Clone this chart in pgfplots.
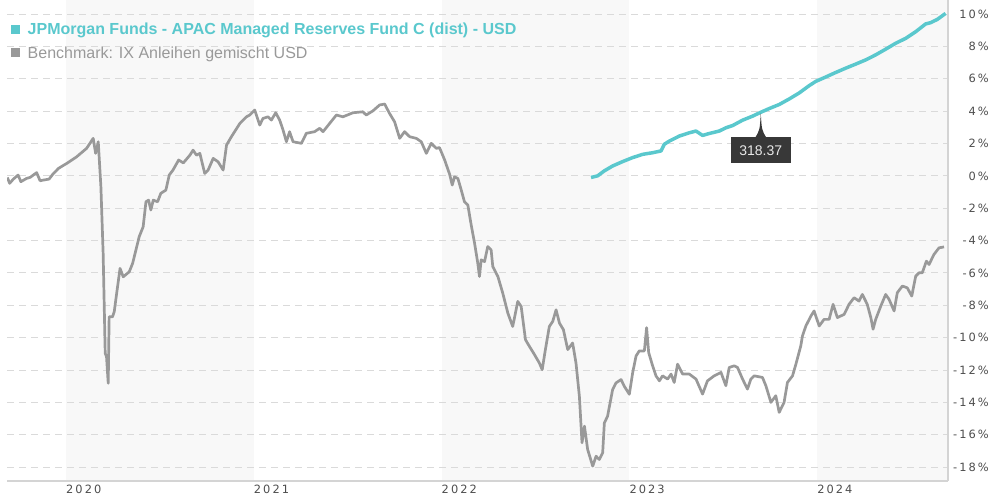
\documentclass[border=0pt]{standalone}
\usepackage{fontspec}
\setmainfont{Liberation Sans}
\newfontfamily\tickfont[LetterSpace=18]{DejaVu Sans}
\usepackage{pgfplots}
\pgfplotsset{compat=1.18}
\definecolor{fundc}{HTML}{5AC8CD}
\definecolor{benchc}{HTML}{999999}
\definecolor{bandc}{HTML}{F8F8F8}
\definecolor{gridc}{HTML}{DADADA}
\definecolor{axisc}{HTML}{D4D4D4}
\definecolor{tickc}{HTML}{4D4D4D}
\definecolor{tipc}{HTML}{383838}
\definecolor{tiptext}{HTML}{E8E8E8}
\begin{document}
\begin{tikzpicture}
\begin{axis}[
  set layers,
  scale only axis,
  width=941pt, height=481pt,
  at={(7pt,19pt)}, anchor=south west,
  xmin=2019.686, xmax=2024.697,
  ymin=-18.86, ymax=10.87,
  axis x line*=bottom, axis y line*=right,
  axis line style={draw=axisc, line width=1.2pt, -},
  major tick length=0pt,
  ymajorgrids=true,
  grid style={draw=gridc, line width=1pt, dash pattern=on 7pt off 5pt},
  xtick={2020,2021,2022,2023,2024},
  xticklabels={2020,2021,2022,2023,2024},
  ytick={-18,-16,-14,-12,-10,-8,-6,-4,-2,0,2,4,6,8,10},
  yticklabels={-18\%,-16\%,-14\%,-12\%,-10\%,-8\%,-6\%,-4\%,-2\%,0\%,2\%,4\%,6\%,8\%,10\%},
  xticklabel style={font=\tickfont\fontsize{11.4pt}{13pt}\selectfont, text=tickc, anchor=north west, inner sep=0pt, yshift=-4pt},
  yticklabel style={font=\tickfont\fontsize{11.4pt}{13pt}\selectfont, text=tickc, anchor=east, inner sep=0pt, xshift=41pt},
  clip=true,
]
\addplot[fill=bandc, draw=none, on layer=axis background] coordinates {(2020,-18.86) (2021,-18.86) (2021,10.87) (2020,10.87)} -- cycle;
\addplot[fill=bandc, draw=none, on layer=axis background] coordinates {(2022,-18.86) (2023,-18.86) (2023,10.87) (2022,10.87)} -- cycle;
\addplot[fill=bandc, draw=none, on layer=axis background] coordinates {(2024,-18.86) (2024.697,-18.86) (2024.697,10.87) (2024,10.87)} -- cycle;
\addplot[benchc, line width=2.7pt, line join=round] coordinates {
(2019.688,-0.10) (2019.700,-0.46) (2019.720,-0.20) (2019.745,0.05) (2019.760,-0.36)
(2019.790,-0.16) (2019.810,-0.09) (2019.826,0.05) (2019.844,0.20) (2019.862,-0.30)
(2019.880,-0.26) (2019.910,-0.20) (2019.930,0.10) (2019.960,0.46) (2020.004,0.77)
(2020.057,1.18) (2020.110,1.70) (2020.145,2.32) (2020.158,1.39) (2020.172,2.11)
(2020.186,-0.67) (2020.198,-4.79) (2020.209,-10.97) (2020.216,-11.18) (2020.225,-12.82)
(2020.230,-8.71) (2020.248,-8.71) (2020.257,-8.40) (2020.270,-7.26) (2020.288,-5.72)
(2020.305,-6.24) (2020.337,-5.93) (2020.355,-5.41) (2020.390,-3.76) (2020.411,-3.15)
(2020.426,-1.60) (2020.440,-1.50) (2020.452,-2.11) (2020.465,-1.50) (2020.488,-1.60)
(2020.505,-1.08) (2020.532,-0.88) (2020.550,0.05) (2020.570,0.36) (2020.600,0.98)
(2020.625,0.80) (2020.660,1.28) (2020.677,1.59) (2020.695,1.28) (2020.713,1.39)
(2020.739,0.15) (2020.757,0.36) (2020.784,1.08) (2020.810,0.87) (2020.837,0.36)
(2020.855,1.90) (2020.881,2.42) (2020.926,3.24) (2020.961,3.65) (2020.979,3.76)
(2021.005,4.07) (2021.032,3.14) (2021.049,3.55) (2021.076,3.65) (2021.094,3.45)
(2021.117,3.90) (2021.138,3.45) (2021.156,2.83) (2021.174,2.11) (2021.191,2.73)
(2021.209,2.11) (2021.254,2.01) (2021.280,2.63) (2021.324,2.73) (2021.351,2.94)
(2021.369,2.73) (2021.404,3.24) (2021.440,3.76) (2021.475,3.65) (2021.528,3.90)
(2021.581,3.96) (2021.599,3.76) (2021.635,4.02) (2021.670,4.38) (2021.697,4.44)
(2021.723,3.86) (2021.750,3.34) (2021.777,2.32) (2021.803,2.73) (2021.830,2.42)
(2021.865,2.32) (2021.892,2.11) (2021.919,1.39) (2021.945,2.01) (2021.972,1.70)
(2021.989,1.75) (2022.016,1.00) (2022.043,0.10) (2022.057,-0.57) (2022.069,-0.06)
(2022.087,-0.16) (2022.105,-0.88) (2022.122,-1.60) (2022.140,-1.80) (2022.158,-3.04)
(2022.176,-4.17) (2022.193,-5.40) (2022.202,-6.22) (2022.211,-5.19) (2022.229,-5.30)
(2022.246,-4.37) (2022.264,-4.58) (2022.273,-5.61) (2022.300,-6.22) (2022.326,-7.25)
(2022.353,-8.48) (2022.379,-9.31) (2022.406,-7.76) (2022.424,-8.07) (2022.447,-10.13)
(2022.468,-10.54) (2022.495,-11.05) (2022.521,-11.57) (2022.536,-11.98) (2022.553,-10.74)
(2022.574,-9.31) (2022.592,-9.00) (2022.610,-8.28) (2022.628,-9.10) (2022.649,-9.51)
(2022.672,-10.74) (2022.698,-10.33) (2022.716,-11.57) (2022.734,-13.62) (2022.748,-16.50)
(2022.761,-15.47) (2022.778,-16.91) (2022.805,-17.94) (2022.823,-17.33) (2022.840,-17.53)
(2022.858,-17.12) (2022.867,-15.27) (2022.884,-14.86) (2022.911,-13.21) (2022.929,-12.80)
(2022.956,-12.59) (2022.973,-13.00) (2023.000,-13.50) (2023.018,-12.15) (2023.036,-11.13)
(2023.053,-10.82) (2023.080,-10.82) (2023.092,-9.38) (2023.103,-10.92) (2023.124,-11.74)
(2023.142,-12.36) (2023.160,-12.67) (2023.177,-12.36) (2023.204,-12.56) (2023.222,-12.25)
(2023.239,-12.77) (2023.257,-11.64) (2023.284,-12.25) (2023.319,-12.25) (2023.355,-12.56)
(2023.390,-13.49) (2023.416,-12.67) (2023.452,-12.36) (2023.488,-12.15) (2023.514,-12.97)
(2023.532,-11.84) (2023.559,-11.74) (2023.576,-11.84) (2023.603,-12.56) (2023.629,-13.18)
(2023.647,-12.56) (2023.665,-12.36) (2023.709,-12.46) (2023.727,-12.97) (2023.754,-14.00)
(2023.780,-13.59) (2023.798,-14.62) (2023.824,-14.00) (2023.842,-12.77) (2023.869,-12.36)
(2023.887,-11.64) (2023.913,-10.51) (2023.922,-9.89) (2023.940,-9.28) (2023.967,-8.66)
(2023.984,-8.35) (2024.011,-9.28) (2024.037,-8.87) (2024.064,-8.87) (2024.085,-7.94)
(2024.108,-8.76) (2024.144,-8.56) (2024.170,-7.94) (2024.197,-7.53) (2024.223,-7.74)
(2024.241,-7.33) (2024.267,-7.94) (2024.286,-8.76) (2024.298,-9.48) (2024.312,-8.87)
(2024.339,-8.05) (2024.365,-7.33) (2024.383,-7.63) (2024.410,-8.35) (2024.427,-7.22)
(2024.454,-6.81) (2024.480,-6.92) (2024.504,-7.43) (2024.525,-6.20) (2024.543,-5.99)
(2024.560,-5.99) (2024.582,-5.27) (2024.596,-5.48) (2024.622,-4.86) (2024.649,-4.45)
(2024.676,-4.39)
};
\addplot[fundc, line width=3.5pt, line join=round] coordinates {
(2022.796,-0.10) (2022.831,0.00) (2022.867,0.31) (2022.911,0.61) (2022.964,0.88)
(2023.018,1.13) (2023.071,1.33) (2023.124,1.43) (2023.169,1.54) (2023.186,1.95)
(2023.213,2.15) (2023.266,2.46) (2023.319,2.66) (2023.355,2.77) (2023.390,2.50)
(2023.426,2.62) (2023.479,2.77) (2023.514,2.97) (2023.550,3.11) (2023.603,3.44)
(2023.656,3.69) (2023.700,3.93) (2023.745,4.16) (2023.798,4.41) (2023.851,4.75)
(2023.904,5.12) (2023.957,5.57) (2023.993,5.84) (2024.046,6.11) (2024.099,6.39)
(2024.153,6.66) (2024.206,6.91) (2024.259,7.17) (2024.312,7.48) (2024.365,7.83)
(2024.419,8.20) (2024.472,8.50) (2024.525,8.91) (2024.578,9.39) (2024.605,9.47)
(2024.640,9.67) (2024.684,10.04)
};
\coordinate (T) at (axis cs:2023.700,3.93);
\fill[tipc] ([yshift=-1pt]T) .. controls ([xshift=1pt,yshift=-18pt]T) .. ([xshift=6pt,yshift=-26pt]T)
  -- ([xshift=-6pt,yshift=-26pt]T) .. controls ([xshift=-1pt,yshift=-18pt]T) .. ([yshift=-1pt]T) -- cycle;
\fill[tipc] ([xshift=-30pt,yshift=-25pt]T) rectangle ([xshift=30pt,yshift=-51pt]T);
\node[text=tiptext, font=\fontsize{14pt}{16pt}\selectfont, inner sep=0pt] at ([yshift=-38pt]T) {318.37};
\end{axis}
\fill[fundc] (11pt,466pt) rectangle (20pt,475pt);
\fill[benchc] (11pt,442.7pt) rectangle (20pt,451.7pt);
\node[anchor=base west, inner sep=0pt, text=fundc, font=\bfseries\fontsize{16pt}{18pt}\selectfont] at (27.5pt,465pt) {JPMorgan Funds - APAC Managed Reserves Fund C (dist) - USD};
\node[anchor=base west, inner sep=0pt, text=benchc, font=\fontsize{16pt}{18pt}\selectfont] at (27.5pt,441.7pt) {Benchmark: IX Anleihen gemischt USD};
\pgfresetboundingbox
\path[use as bounding box] (0pt,0pt) rectangle (990pt,500pt);
\end{tikzpicture}
\end{document}
